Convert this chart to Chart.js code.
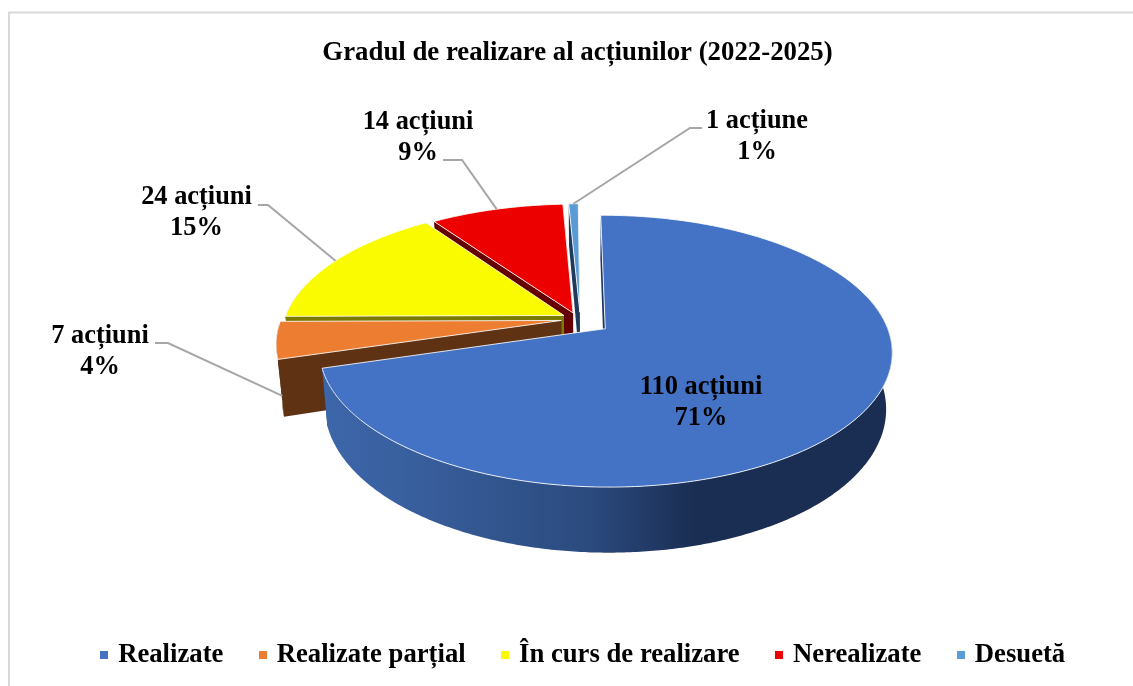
<!DOCTYPE html>
<html lang="ro">
<head>
<meta charset="utf-8">
<title>Gradul de realizare al acțiunilor (2022-2025)</title>
<style>
html,body{margin:0;padding:0;background:#fff}
#wrap{position:relative;width:1133px;height:686px}
</style>
<script src="https://cdn.jsdelivr.net/npm/chart.js@4"></script>
</head>
<body>
<div id="wrap"><canvas id="c"></canvas></div>
<script>
const chartTitle = 'Gradul de realizare al acțiunilor (2022-2025)';
const categories = ['Realizate', 'Realizate parțial', 'În curs de realizare', 'Nerealizate', 'Desuetă'];
const actionCounts = [110, 7, 24, 14, 1];
const countLabels = ['110 acțiuni', '7 acțiuni', '24 acțiuni', '14 acțiuni', '1 acțiune'];
const percentLabels = ['71%', '4%', '15%', '9%', '1%'];
const sliceColors = ['#4472C4', '#ED7D31', '#FBFB00', '#EC0000', '#5B9BD5'];
const wallColors = ['#1f3864', '#5f3214', '#7a7a00', '#660000', '#1f3a5c'];

// view of the tilted disc
const RADIUS = 280, EXPLODE = 25, TILT_Y = 129.9, PERSP = 0.164, DEPTH = 54, DEPTH_V = 11, SHRINK = 0.98;
// small per-slice view corrections
const sliceNudge = [[0, 0], [1, -3], [1, -1], [-4, 2], [-4.5, 2]];
// text anchors: [label centre x, first line y]; leaders: [elbow x, elbow y, end x, end y, drop below rim]
const labelAnchors = [[701, 387.5], [100, 336.5], [196.5, 197.5], [418, 122.5], [757, 121.5]];
const leaders = [null, [168, 343, 155, 343, 1], [268, 205, 258, 205, 0], [462, 160, 443, 160, 0], [690, 128, 702, 128, 0]];

function project(arc, angle, rad) {
  const mid = (arc.startAngle + arc.endAngle) / 2;
  const off = arc.options.offset;
  const n = sliceNudge[arc.$context.index];
  const px = off * Math.cos(mid) + rad * Math.cos(angle);
  const py = off * Math.sin(mid) + rad * Math.sin(angle);
  const v = py / arc.outerRadius;
  const f = 1 / (1 - PERSP * v);
  return { x: arc.x + px * f + n[0], y: arc.y + TILT_Y * v * f + n[1], v };
}
function drop(arc, p, k) {
  const t = k === undefined ? 1 : k;
  return {
    x: arc.x + (p.x - arc.x) * (1 - (1 - SHRINK) * t),
    y: p.y + (DEPTH + DEPTH_V * p.v) * t
  };
}
function rimPoints(arc, a0, a1) {
  const n = Math.max(2, Math.ceil(Math.abs(a1 - a0) / 0.01));
  const out = [];
  for (let i = 0; i <= n; i++) out.push(project(arc, a0 + (a1 - a0) * i / n, arc.outerRadius));
  return out;
}
function polyPath(ctx, pts) {
  ctx.beginPath();
  pts.forEach((p, i) => i ? ctx.lineTo(p.x, p.y) : ctx.moveTo(p.x, p.y));
  ctx.closePath();
}
function drawSlice(ctx, arc, i) {
  const R = arc.outerRadius;
  const apex = project(arc, arc.startAngle, 0);
  [arc.startAngle, arc.endAngle].forEach(a => {
    const rim = project(arc, a, R);
    polyPath(ctx, [apex, rim, drop(arc, rim), drop(arc, apex)]);
    ctx.fillStyle = wallColors[i];
    ctx.fill();
  });
  const lo = Math.max(arc.startAngle, -0.26), hi = Math.min(arc.endAngle, 3.4);
  if (hi > lo) {
    const top = rimPoints(arc, lo, hi);
    const pts = top.concat(top.map(p => drop(arc, p)).reverse());
    polyPath(ctx, pts);
    if (i === 0) {
      const g = ctx.createLinearGradient(arc.x - R, 0, arc.x + R + 25, 0);
      g.addColorStop(0, '#3e68ad');
      g.addColorStop(0.16, '#39609f');
      g.addColorStop(0.49, '#2b4a7e');
      g.addColorStop(0.67, '#1a2d52');
      g.addColorStop(1, '#1a2d52');
      ctx.fillStyle = g;
    } else ctx.fillStyle = wallColors[i];
    ctx.fill();
  }
  polyPath(ctx, [apex].concat(rimPoints(arc, arc.startAngle, arc.endAngle)));
  ctx.fillStyle = arc.options.backgroundColor;
  ctx.fill();
  ctx.lineWidth = 1;
  ctx.lineJoin = 'round';
  ctx.strokeStyle = 'rgba(255,255,255,0.85)';
  ctx.stroke();
}
function marker(color) {
  const c = document.createElement('canvas');
  c.width = 8; c.height = 8;
  const x = c.getContext('2d');
  x.fillStyle = color;
  x.fillRect(0, 0, 8, 8);
  return c;
}
const pie3d = {
  id: 'pie3d',
  beforeDraw(chart) {
    const { ctx, width, height } = chart;
    ctx.save();
    ctx.fillStyle = '#fff';
    ctx.fillRect(0, 0, width, height);
    ctx.strokeStyle = '#d9d9d9';
    ctx.lineWidth = 2;
    ctx.beginPath();
    ctx.moveTo(9, height);
    ctx.lineTo(9, 12.5);
    ctx.lineTo(width, 12.5);
    ctx.stroke();
    ctx.restore();
  },
  afterLayout(chart) {
    const t = chart.titleBlock, l = chart.legend;
    const dt = 577.5 - (t.left + t.right) / 2;
    t.left += dt; t.right += dt;
    const tdy = 37 - t.top;
    t.top += tdy; t.bottom += tdy;
    const ldx = 584.5 - (l.left + l.right) / 2;
    l.left += ldx; l.right += ldx;
    const ldy = 602.5 - l.top;
    l.top += ldy; l.bottom += ldy;
  },
  beforeDatasetDraw(chart, args) {
    const ctx = chart.ctx;
    const arcs = chart.getDatasetMeta(args.index).data;
    ctx.save();
    for (let i = arcs.length - 1; i >= 0; i--) drawSlice(ctx, arcs[i], i);
    ctx.restore();
    return false;
  },
  afterDatasetsDraw(chart) {
    const ctx = chart.ctx;
    const arcs = chart.getDatasetMeta(0).data;
    ctx.save();
    ctx.strokeStyle = '#a6a6a6';
    ctx.lineWidth = 2;
    arcs.forEach((arc, i) => {
      const l = leaders[i];
      if (!l) return;
      let s = project(arc, (arc.startAngle + arc.endAngle) / 2, arc.outerRadius);
      if (l[4]) s = drop(arc, s, l[4]);
      ctx.beginPath();
      ctx.moveTo(s.x, s.y);
      ctx.lineTo(l[0], l[1]);
      ctx.lineTo(l[2], l[3]);
      ctx.stroke();
    });
    ctx.fillStyle = '#000';
    ctx.font = 'bold 26.4px "Liberation Serif"';
    ctx.textAlign = 'center';
    ctx.textBaseline = 'middle';
    arcs.forEach((arc, i) => {
      const [x, y] = labelAnchors[i];
      ctx.fillText(countLabels[i], x, y);
      ctx.fillText(percentLabels[i], x, y + 30.5);
    });
    ctx.restore();
  }
};
Chart.defaults.font.family = '"Liberation Serif"';
new Chart(document.getElementById('c'), {
  type: 'pie',
  data: {
    labels: categories,
    datasets: [{
      data: actionCounts,
      backgroundColor: sliceColors,
      offset: EXPLODE,
      borderWidth: 0
    }]
  },
  options: {
    responsive: true,
    maintainAspectRatio: false,
    animation: false,
    rotation: -0.4,
    radius: RADIUS,
    events: [],
    layout: { padding: { left: 37, right: 0, top: 1, bottom: 0 } },
    plugins: {
      tooltip: { enabled: false },
      title: {
        display: true,
        text: chartTitle,
        color: '#000',
        font: { family: '"Liberation Serif"', size: 26.8, weight: 'bold', lineHeight: 1.2 },
        padding: 0
      },
      legend: {
        display: true,
        position: 'bottom',
        labels: {
          color: '#000',
          font: { family: '"Liberation Serif"', size: 26.7, weight: 'bold' },
          usePointStyle: true,
          pointStyleWidth: 1,
          boxHeight: 8,
          padding: 39,
          generateLabels(chart) {
            return Chart.overrides.pie.plugins.legend.labels.generateLabels(chart).map((it, i) => {
              it.pointStyle = marker(sliceColors[i]);
              return it;
            });
          }
        }
      }
    }
  },
  plugins: [pie3d]
});
</script>
</body>
</html>
